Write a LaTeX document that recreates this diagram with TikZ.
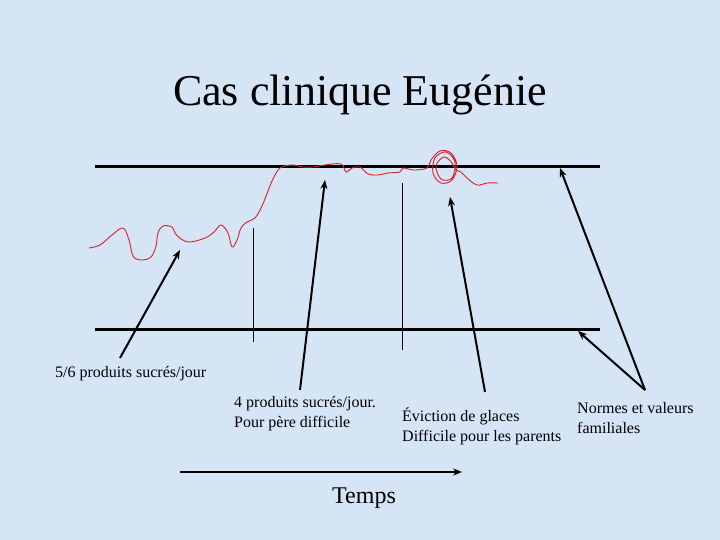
\documentclass[tikz,border=0pt]{standalone}
\usepackage{fontspec}
\setmainfont{Liberation Serif}
\usepackage{xcolor}
\usetikzlibrary{arrows.meta, positioning}
\definecolor{SlideBlue}{HTML}{D5E5F5}
\definecolor{ScribbleRed}{HTML}{D8202A}

\begin{document}
\begin{tikzpicture}[x=1pt, y=-1pt,
    level/.style={line width=3pt},
    marker/.style={line width=0.8pt},
    pointer/.style={line width=2pt, -{Stealth[length=9pt, width=7pt]}},
    textlabel/.style={font=\fontsize{16}{20}\selectfont, align=left, inner sep=0pt, anchor=north west}]

        \fill[SlideBlue] (0,0) rectangle (720,540);
        \useasboundingbox (0,0) rectangle (720,540);

        \node (title) at (360,95) {\fontsize{44}{50}\selectfont Cas clinique Eugénie};

        % levels
        \coordinate (topL) at (95,167);
        \coordinate (topR) at (600,167);
        \coordinate (botL) at (95,329);
        \coordinate (botR) at (600,329);
        \draw[level] (topL) -- (topR);
        \draw[level] (botL) -- (botR);

        % markers
        \coordinate (m1a) at (253,228);
        \coordinate (m1b) at (253,342);
        \coordinate (m2a) at (402,183);
        \coordinate (m2b) at (402,350);
        \draw[marker] (m1a) -- (m1b);
        \draw[marker] (m2a) -- (m2b);

        % consumption curve
        \draw[ScribbleRed, line width=0.9pt] plot[smooth, tension=0.6] coordinates {
            (89,248) (100,245) (112,235) (123,228) (129,240) (133,256) (141,260)
            (151,257) (156,246) (158,233) (163,226) (172,227) (175,233) (181,239)
            (190,242) (205,238) (214,232) (221,225) (228,233) (232,247) (237,240)
            (241,228) (247,222) (255,218) (262,206) (268,191) (273,179) (280,168)
            (292,165) (303,167) (313,167) (325,165) (341,164) (346,172) (352,168)
            (360,167) (368,174) (378,175) (388,173) (400,172) (403,168) (414,170)
            (427,168) (431,160) (440,151) (451,153) (457,166) (452,180) (441,183)
            (433,173) (435,158) (446,152) (455,162) (452,178) (441,179) (436,166)
            (444,157) (452,163) (456,170) (461,172) (467,178) (477,185) (487,183)
            (498,183)};

        % labels
        \node[textlabel] (sucre6) at (55,366) {5/6 produits sucrés/jour};
        \node[textlabel] (sucre4) at (234,396) {4 produits sucrés/jour.\\Pour père difficile};
        \node[textlabel] (glaces) at (402,408) {Éviction de glaces\\Difficile pour les parents};
        \node[textlabel] (normes) at (577,402) {Normes et valeurs\\familiales};
        \node (temps) at (364,498) {\fontsize{24}{28}\selectfont Temps};

        % pointers
        \coordinate (p1s) at (120,358);
        \coordinate (p1e) at (180,250);
        \coordinate (p2s) at (300,390);
        \coordinate (p2e) at (325,180);
        \coordinate (p3s) at (485,392);
        \coordinate (p3e) at (450,197);
        \coordinate (p4s) at (645,390);
        \coordinate (p4e) at (560,168);
        \coordinate (p5e) at (578,331);
        \draw[pointer] (p1s) -- (p1e);
        \draw[pointer] (p2s) -- (p2e);
        \draw[pointer] (p3s) -- (p3e);
        \draw[pointer] (p4s) -- (p4e);
        \draw[pointer] (p4s) -- (p5e);

        % time axis
        \coordinate (t0) at (180,472);
        \coordinate (t1) at (462,472);
        \draw[line width=2pt, -{Stealth[length=9pt, width=7pt]}] (t0) -- (t1);

    \end{tikzpicture}
\end{document}
